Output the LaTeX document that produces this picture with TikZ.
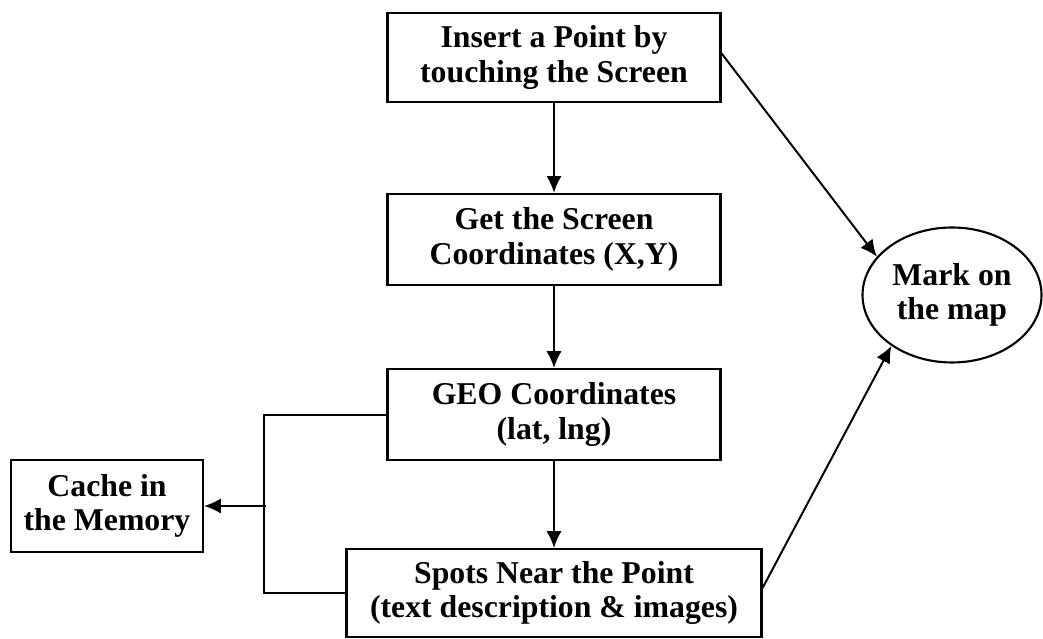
\documentclass[tikz,border=0pt]{standalone}
\usepackage{fontspec}
\setmainfont{Liberation Serif}
\usetikzlibrary{arrows.meta,shapes.geometric}
\begin{document}
\begin{tikzpicture}[
  stepbox/.style={draw, line width=1.5pt, align=center, inner sep=0pt,
    font=\fontsize{22.6}{24.5}\selectfont\bfseries},
  flow/.style={line width=1.4pt, -{Latex[length=4.2mm,width=3.8mm]}},
  link/.style={line width=1.4pt}]
\useasboundingbox (0,0) rectangle (26.075,15.975);
% main column
\node[stepbox, minimum width=8.325cm, minimum height=2.225cm] (insert) at (13.85,14.54) {Insert a Point by\\touching the Screen};
\node[stepbox, minimum width=8.325cm, minimum height=2.275cm] (screen) at (13.85,9.99) {Get the Screen\\Coordinates (X,Y)};
\node[stepbox, minimum width=8.325cm, minimum height=2.275cm] (geo) at (13.85,5.61) {GEO Coordinates\\(lat, lng)};
\node[stepbox, minimum width=10.375cm, minimum height=2.2cm] (spots) at (13.85,1.15) {Spots Near the Point\\(text description \& images)};
% side nodes
\node[stepbox, minimum width=4.8cm, minimum height=2.3cm] (cache) at (2.675,3.325) {Cache in\\the Memory};
\node[stepbox, ellipse, minimum width=4.475cm, minimum height=3.375cm] (mark) at (23.8,8.6) {Mark on\\the map};
% connectors
\draw[flow] (insert) -- (screen);
\draw[flow] (screen) -- (geo);
\draw[flow] (geo) -- (spots);
\draw[flow] ([yshift=1mm]insert.east) -- (mark.153);
\draw[flow] ([yshift=1.25mm]spots.east) -- (mark.220);
\draw[link] (geo.west) -- ++(-3.05,0) |- (spots.west);
\coordinate (split) at (6.65,3.325);
\draw[flow] (split) -- (cache.east);
\end{tikzpicture}
\end{document}
